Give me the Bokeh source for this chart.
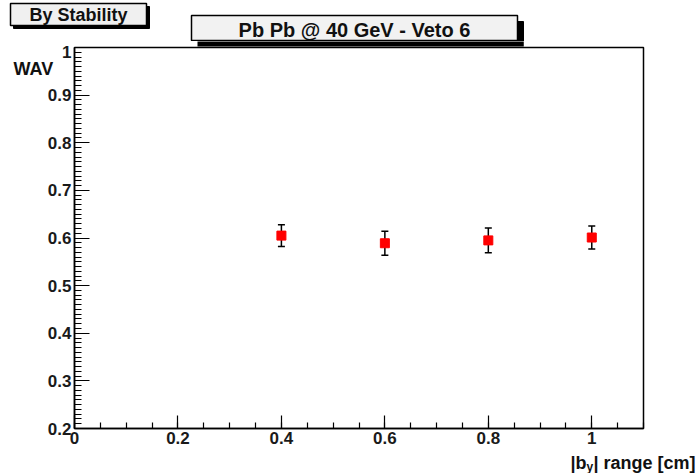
from bokeh.plotting import figure
from bokeh.layouts import column
from bokeh.models import (FixedTicker, Label, Whisker, ColumnDataSource,
                          Range1d, TeeHead)
from bokeh.core.properties import value
from bokeh.embed import file_html
from bokeh.resources import INLINE
import numpy as np

# ---- data ----
by_range = [0.4, 0.6, 0.8, 1.0]
wav = [0.605, 0.589, 0.595, 0.601]
wav_err = [0.023, 0.025, 0.026, 0.024]

x_ticks = [0.0, 0.2, 0.4, 0.6, 0.8, 1.0]
x_tick_labels = ["0", "0.2", "0.4", "0.6", "0.8", "1"]
y_ticks = [0.2, 0.3, 0.4, 0.5, 0.6, 0.7, 0.8, 0.9, 1.0]
y_tick_labels = ["0.2", "0.3", "0.4", "0.5", "0.6", "0.7", "0.8", "0.9", "1"]

title_text = "Pb Pb @ 40 GeV - Veto 6"
tag_text = "By Stability"
y_label = "WAV"

# ---- geometry (page pixels) ----
W, H = 700, 473
TOP_H = 41                       # height of the header strip figure
L, R, T, B = 74, 57, 47, 45      # frame borders in the page
FW, FH = W - L - R, H - T - B
XMIN, XMAX = 0.0, 1.1
YMIN, YMAX = 0.2, 1.0
FONT = "Liberation Sans"

def dx(px):
    return XMIN + (px - L) * (XMAX - XMIN) / FW

def dy(py):
    return YMAX - (py - T) * (YMAX - YMIN) / FH

# ---- header figure (boxes + title) ----
top = figure(width=W, height=TOP_H, output_backend="svg", toolbar_location=None,
             x_range=Range1d(0, W), y_range=Range1d(TOP_H, 0),
             x_axis_type=None, y_axis_type=None,
             min_border=0, min_border_left=0, min_border_right=0,
             min_border_top=0, min_border_bottom=0, frame_align=False)
top.grid.visible = False
top.outline_line_color = None
top.background_fill_color = "white"
top.border_fill_color = "white"

top.quad(left=[13, 197], right=[149, 523], top=[6, 21], bottom=[28, 46],
         fill_color="black", line_color="black")
top.quad(left=[10, 191], right=[146, 517], top=[3, 15], bottom=[25, 40],
         fill_color=["#f0f0f0", "#f2f2f2"], line_color="black", line_width=1.5)
top.text(x=[78], y=[14], text=[tag_text], text_font=value(FONT),
         text_font_style="bold", text_font_size="18px", text_color="#111111",
         text_align="center", text_baseline="middle")
top.text(x=[354], y=[29], text=[title_text], text_font=value(FONT),
         text_font_style="bold", text_font_size="20px", text_color="#111111",
         text_align="center", text_baseline="middle")

# ---- main figure ----
p = figure(width=W, height=H - TOP_H, output_backend="svg", toolbar_location=None,
           x_range=Range1d(XMIN, XMAX), y_range=Range1d(YMIN, YMAX),
           min_border_left=L, min_border_right=R, min_border_top=T - TOP_H,
           min_border_bottom=B, frame_align=False)
p.grid.visible = False
p.background_fill_color = "white"
p.border_fill_color = "white"
p.outline_line_color = "black"
p.outline_line_width = 1.5

x_minor = [round(v, 3) for v in np.arange(0, 1.1001, 0.05)]
y_minor = [round(v, 3) for v in np.arange(0.2, 1.0001, 0.01)]
p.xaxis.ticker = FixedTicker(ticks=x_ticks, minor_ticks=x_minor)
p.yaxis.ticker = FixedTicker(ticks=y_ticks, minor_ticks=y_minor)
p.xaxis.major_label_overrides = dict(zip(x_ticks, x_tick_labels))
# the topmost y label ("1") is drawn as a separate label, a little lower, as in the original
y_over = dict(zip(y_ticks, y_tick_labels))
y_over[y_ticks[-1]] = ""
p.yaxis.major_label_overrides = y_over

TICK_SIZE = "17px"
for ax in (p.xaxis[0], p.yaxis[0]):
    ax.axis_line_color = "black"
    ax.axis_line_width = 1.5
    ax.major_tick_out = 0
    ax.minor_tick_out = 0
    ax.major_tick_line_color = "black"
    ax.minor_tick_line_color = "black"
    ax.major_tick_line_width = 1.2
    ax.minor_tick_line_width = 1.2
    ax.major_label_text_font = FONT
    ax.major_label_text_font_style = "bold"
    ax.major_label_text_font_size = TICK_SIZE
    ax.major_label_text_color = "#1a1a1a"

p.xaxis.major_tick_in = 13
p.xaxis.minor_tick_in = 6
p.xaxis.major_label_standoff = 3
p.yaxis.major_tick_in = 15
p.yaxis.minor_tick_in = 7
p.yaxis.major_label_standoff = 3

src = ColumnDataSource(dict(x=by_range, y=wav,
                            lo=[v - e for v, e in zip(wav, wav_err)],
                            hi=[v + e for v, e in zip(wav, wav_err)]))
wh = Whisker(base="x", lower="lo", upper="hi", source=src,
             line_color="black", line_width=1.5,
             lower_head=TeeHead(size=7, line_color="black", line_width=1.5),
             upper_head=TeeHead(size=7, line_color="black", line_width=1.5))
p.add_layout(wh)
p.scatter("x", "y", source=src, marker="square", size=9,
          fill_color="#ff0000", line_color="#ff0000")

# labels live in side panels (not clipped by the frame); positions are in data units
def label(text, px, py, size, align="left", baseline="alphabetic", place="right",
          color="#111111", **kw):
    p.add_layout(Label(x=dx(px), y=dy(py), text=text, text_font=FONT,
                       text_font_style="bold", text_font_size=size,
                       text_color=color, text_align=align,
                       text_baseline=baseline, **kw), place)

# lower part of the title-box shadow, below the header strip
label(" ", 197, TOP_H, "1px", "left", "top", "above",
      background_fill_color="black",
      padding=dict(left=0, right=326, top=0, bottom=4))

label(y_tick_labels[-1], L - 3, 51, TICK_SIZE, "right", "middle", "left",
      color="#1a1a1a")
label(y_label, 13, 68, "18px", "left", "middle", "right")

xl0 = 570
label("|b", xl0, 462, "18px", place="left")
label("y", xl0 + 16, 466, "12px", place="left")
label("| range [cm]", xl0 + 23, 462, "18px", place="below")

open("out.html", "w").write(file_html(column(top, p), INLINE))
